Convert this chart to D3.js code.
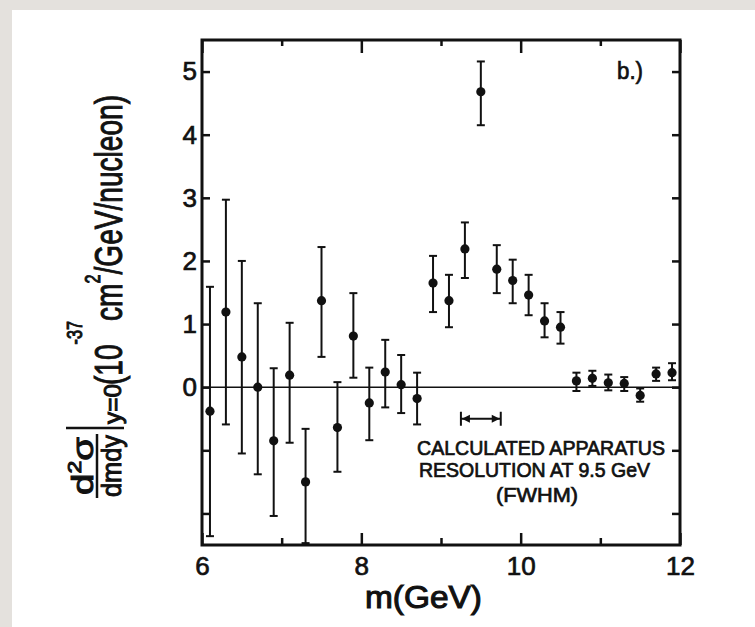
<!DOCTYPE html>
<html>
<head>
<meta charset="utf-8">
<script src="https://cdn.jsdelivr.net/npm/d3@7"></script>
<style>
  body { margin: 0; background: #e4e1dd; }
  svg { display: block; }
  text { font-family: "Liberation Sans", Arial, sans-serif; fill: #111; stroke: #111; stroke-width: 0.7px; }
</style>
</head>
<body>
<div id="chart"></div>
<script>
// dimuon mass bins (GeV) and d2sigma/dmdy at y=0 (1e-37 cm2/GeV/nucleon)
const mass = [6.1, 6.3, 6.5, 6.7, 6.9, 7.1, 7.3, 7.5, 7.7, 7.9,
              8.1, 8.3, 8.5, 8.7, 8.9, 9.1, 9.3, 9.5, 9.7, 9.9,
              10.1, 10.3, 10.5, 10.7, 10.9, 11.1, 11.3, 11.5, 11.7, 11.9];
const xsec = [-0.38, 1.19, 0.48, 0.00, -0.85, 0.19, -1.50, 1.37, -0.64, 0.81,
              -0.25, 0.24, 0.04, -0.18, 1.65, 1.37, 2.19, 4.68, 1.87, 1.69,
              1.46, 1.05, 0.95, 0.10, 0.14, 0.07, 0.06, -0.13, 0.21, 0.23];
const errLow = [-2.36, -0.59, -1.05, -1.38, -2.04, -0.88, -2.47, 0.48, -1.34, 0.15,
                -0.84, -0.32, -0.41, -0.59, 1.19, 0.95, 1.73, 4.15, 1.49, 1.33,
                1.14, 0.79, 0.69, -0.06, 0.02, -0.05, -0.06, -0.23, 0.10, 0.11];
const errHigh = [1.59, 2.97, 2.00, 1.33, 0.30, 1.02, -0.66, 2.22, 0.08, 1.49,
                 0.31, 0.75, 0.51, 0.23, 2.08, 1.78, 2.61, 5.16, 2.25, 2.02,
                 1.78, 1.33, 1.19, 0.23, 0.26, 0.20, 0.16, -0.02, 0.31, 0.38];

const xTicksMajor = [6, 8, 10, 12];
const xTicksMinor = [7, 9, 11];
const yTicks = [-2, -1, 0, 1, 2, 3, 4, 5];
const yLabelled = [0, 1, 2, 3, 4, 5];

// resolution marker: FWHM span at 9.5 GeV, drawn at y = -0.5
const resolution = [9.25, 9.75];
const resolutionLevel = -0.5;
const noteLines = ["CALCULATED APPARATUS", "RESOLUTION AT 9.5 GeV", "(FWHM)"];

const width = 755, height = 627;
const ink = "#111";

const svg = d3.select("#chart").append("svg")
    .attr("width", width).attr("height", height);

svg.append("rect").attr("width", width).attr("height", height).attr("fill", "#e4e1dd");
svg.append("rect").attr("x", 12).attr("y", 10)
    .attr("width", width - 12).attr("height", height - 10)
    .attr("fill", "#fff");

const x = d3.scaleLinear().domain([6, 12]).range([202, 680]);
const y = d3.scaleLinear().domain([-2.5, 5.5]).range([545, 40]);

function styleAxis(g) {
    g.select(".domain").remove();
    g.selectAll("line").attr("stroke", ink).attr("stroke-width", 2.5);
    g.selectAll("text").style("font-size", "26px")
        .style("font-family", "'Liberation Sans', Arial, sans-serif")
        .attr("fill", ink).attr("stroke", ink).attr("stroke-width", 1.1);
}

// bottom axis
svg.append("g").attr("transform", "translate(0,545)")
    .call(d3.axisBottom(x).tickValues(xTicksMajor).tickSize(-12).tickPadding(12)
        .tickFormat(d3.format("d")))
    .call(styleAxis);
svg.append("g").attr("transform", "translate(0,545)")
    .call(d3.axisBottom(x).tickValues(xTicksMinor).tickSize(-7).tickFormat(""))
    .call(styleAxis);

// top axis
svg.append("g").attr("transform", "translate(0,40)")
    .call(d3.axisTop(x).tickValues(xTicksMajor).tickSize(-13).tickFormat(""))
    .call(styleAxis);
svg.append("g").attr("transform", "translate(0,40)")
    .call(d3.axisTop(x).tickValues(xTicksMinor).tickSize(-6).tickFormat(""))
    .call(styleAxis);

// left axis
svg.append("g").attr("transform", "translate(202,0)")
    .call(d3.axisLeft(y).tickValues(yTicks).tickSize(-8).tickPadding(5)
        .tickFormat(d => yLabelled.includes(d) ? d : ""))
    .call(styleAxis);

// right axis
svg.append("g").attr("transform", "translate(680,0)")
    .call(d3.axisRight(y).tickValues(yTicks).tickSize(-8).tickFormat(""))
    .call(styleAxis);

// frame
svg.append("rect")
    .attr("x", x(6)).attr("y", y(5.5))
    .attr("width", x(12) - x(6)).attr("height", y(-2.5) - y(5.5))
    .attr("fill", "none").attr("stroke", ink).attr("stroke-width", 3);

// zero line
svg.append("line")
    .attr("x1", x(6)).attr("x2", x(12))
    .attr("y1", y(0)).attr("y2", y(0))
    .attr("stroke", ink).attr("stroke-width", 1.6);

// error bars
const bars = svg.append("g").attr("stroke", ink).attr("stroke-width", 2);
mass.forEach((m, i) => {
    const cx = x(m);
    bars.append("line").attr("x1", cx).attr("x2", cx)
        .attr("y1", y(errLow[i])).attr("y2", y(errHigh[i]));
    bars.append("line").attr("x1", cx - 4).attr("x2", cx + 4)
        .attr("y1", y(errLow[i])).attr("y2", y(errLow[i]));
    bars.append("line").attr("x1", cx - 4).attr("x2", cx + 4)
        .attr("y1", y(errHigh[i])).attr("y2", y(errHigh[i]));
});

// points
svg.append("g").selectAll("circle")
    .data(mass)
    .join("circle")
    .attr("cx", d => x(d))
    .attr("cy", (d, i) => y(xsec[i]))
    .attr("r", 4.6)
    .attr("fill", ink);

// resolution marker
const ry = y(resolutionLevel);
const rx0 = x(resolution[0]), rx1 = x(resolution[1]);
svg.append("line").attr("x1", rx0).attr("x2", rx1).attr("y1", ry).attr("y2", ry)
    .attr("stroke", ink).attr("stroke-width", 2);
[rx0, rx1].forEach(px => {
    svg.append("line").attr("x1", px).attr("x2", px).attr("y1", ry - 7).attr("y2", ry + 7)
        .attr("stroke", ink).attr("stroke-width", 2);
});
svg.append("path")
    .attr("d", `M${rx0 + 1},${ry} L${rx0 + 9},${ry - 4} L${rx0 + 9},${ry + 4} Z M${rx1 - 1},${ry} L${rx1 - 9},${ry - 4} L${rx1 - 9},${ry + 4} Z`)
    .attr("fill", ink);

// note text
const notePos = [[417, 455, 248], [419, 477, 231], [496, 502, 82]];
noteLines.forEach((t, i) => {
    svg.append("text")
        .attr("x", notePos[i][0]).attr("y", notePos[i][1])
        .attr("textLength", notePos[i][2]).attr("lengthAdjust", "spacingAndGlyphs")
        .style("font-size", "20px")
        .text(t);
});

// panel label
svg.append("text").attr("x", 617).attr("y", 79)
    .attr("textLength", 26).attr("lengthAdjust", "spacingAndGlyphs")
    .style("font-size", "23px").text("b.)");

// x title
svg.append("text").attr("x", 365).attr("y", 608)
    .attr("textLength", 117).attr("lengthAdjust", "spacingAndGlyphs")
    .style("font-size", "32px").style("stroke-width", "1.1px").text("m(GeV)");

// y title, rotated: local (u, v) -> screen (v, -u)
const yl = svg.append("g").attr("transform", "rotate(-90)").style("stroke-width", "1px");
yl.append("text").attr("x", -466).attr("y", 93).attr("text-anchor", "middle")
    .attr("textLength", 58).attr("lengthAdjust", "spacingAndGlyphs")
    .style("font-size", "30px").style("stroke-width", "1px")
    .call(t => {
        t.append("tspan").text("d");
        t.append("tspan").attr("dy", -12).style("font-size", "18px").text("2");
        t.append("tspan").attr("dy", 12).text("σ");
    });
yl.append("line").attr("x1", -498).attr("x2", -434).attr("y1", 97).attr("y2", 97)
    .attr("stroke", ink).attr("stroke-width", 2.5);
yl.append("text").attr("x", -466).attr("y", 121).attr("text-anchor", "middle")
    .attr("textLength", 62).attr("lengthAdjust", "spacingAndGlyphs")
    .style("font-size", "28px").style("stroke-width", "1px").text("dmdy");
yl.append("line").attr("x1", -428).attr("x2", -428).attr("y1", 66).attr("y2", 124)
    .attr("stroke", ink).attr("stroke-width", 2.5);
yl.append("text").attr("x", -424).attr("y", 121)
    .attr("textLength", 40).attr("lengthAdjust", "spacingAndGlyphs")
    .style("font-size", "24px").style("stroke-width", "1px").text("y=0");
yl.append("text").attr("x", -385).attr("y", 122)
    .attr("textLength", 290).attr("lengthAdjust", "spacingAndGlyphs")
    .style("font-size", "38px").style("stroke-width", "1px")
    .call(t => {
        t.append("tspan").text("(10");
        t.append("tspan").attr("dy", -40).style("font-size", "22px").text("-37");
        t.append("tspan").attr("dy", 40).text("cm");
        t.append("tspan").attr("dy", -22).style("font-size", "22px").text("2");
        t.append("tspan").attr("dy", 22).text("/GeV/nucleon)");
    });
</script>
</body>
</html>
